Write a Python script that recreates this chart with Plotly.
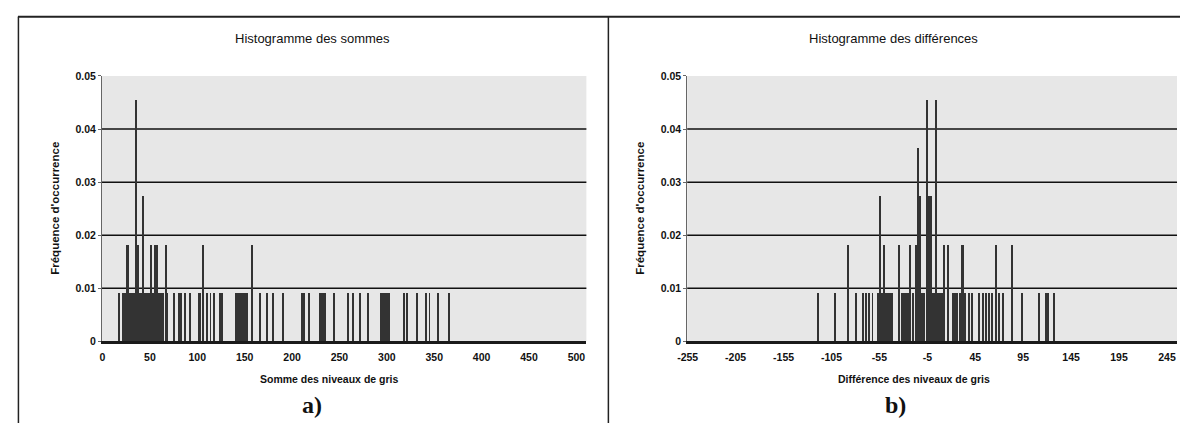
import plotly.graph_objects as go

# ---------------- data ----------------
# Histogram a) : sum of grey levels -> frequency of occurrence
sum_levels = [17, 22, 23, 24, 25, 26, 27, 28, 29, 30, 31, 32, 33, 34, 35, 36, 37, 38,
              40, 41, 43, 44, 45, 46, 48, 49, 51, 52, 53, 55, 56, 57, 58, 59, 60, 62,
              64, 67, 68, 75, 81, 83, 87, 92, 102, 103, 106, 110, 114, 118, 124, 125,
              126, 141, 142, 144, 146, 148, 150, 151, 152, 158, 166, 174, 180, 190,
              210, 211, 212, 213, 218, 229, 231, 233, 235, 244, 259, 264, 272, 280,
              294, 296, 298, 300, 302, 318, 321, 332, 341, 345, 354, 366]
sum_freq = [0.0091, 0.0091, 0.0091, 0.0091, 0.0091, 0.0182, 0.0182, 0.0091, 0.0091,
            0.0091, 0.0091, 0.0091, 0.0091, 0.0091, 0.0455, 0.0182, 0.0182, 0.0091,
            0.0091, 0.0091, 0.0273, 0.0091, 0.0091, 0.0091, 0.0091, 0.0091, 0.0182,
            0.0091, 0.0091, 0.0182, 0.0182, 0.0182, 0.0182, 0.0091, 0.0091, 0.0091,
            0.0091, 0.0182, 0.0091, 0.0091, 0.0091, 0.0091, 0.0091, 0.0091, 0.0091,
            0.0091, 0.0182, 0.0091, 0.0091, 0.0091, 0.0091, 0.0091, 0.0091, 0.0091,
            0.0091, 0.0091, 0.0091, 0.0091, 0.0091, 0.0091, 0.0091, 0.0182, 0.0091,
            0.0091, 0.0091, 0.0091, 0.0091, 0.0091, 0.0091, 0.0091, 0.0091, 0.0091,
            0.0091, 0.0091, 0.0091, 0.0091, 0.0091, 0.0091, 0.0091, 0.0091, 0.0091,
            0.0091, 0.0091, 0.0091, 0.0091, 0.0091, 0.0091, 0.0091, 0.0091, 0.0091,
            0.0091, 0.0091]

# Histogram b) : difference of grey levels -> frequency of occurrence
diff_levels = [-119, -101, -88, -79, -72, -69, -66, -62, -56, -54, -52, -50, -48, -46,
               -44, -42, -34, -31, -30, -29, -28, -27, -25, -23, -20, -17, -15, -12,
               -10, -8, -5, -4, -3, -2, -1, 0, 1, 2, 4, 6, 7, 8, 10, 12, 13, 17, 22,
               24, 26, 29, 31, 32, 35, 39, 42, 49, 53, 56, 60, 63, 67, 70, 74, 84, 94,
               112, 119, 121, 127]
diff_freq = [0.0091, 0.0091, 0.0182, 0.0091, 0.0091, 0.0091, 0.0091, 0.0091, 0.0091,
             0.0273, 0.0091, 0.0182, 0.0091, 0.0091, 0.0091, 0.0091, 0.0182, 0.0091,
             0.0091, 0.0091, 0.0091, 0.0091, 0.0091, 0.0182, 0.0091, 0.0182, 0.0364,
             0.0273, 0.0091, 0.0091, 0.0455, 0.0273, 0.0273, 0.0273, 0.0273, 0.0091,
             0.0091, 0.0091, 0.0455, 0.0091, 0.0091, 0.0091, 0.0091, 0.0091, 0.0182,
             0.0182, 0.0091, 0.0091, 0.0091, 0.0091, 0.0182, 0.0182, 0.0091, 0.0091,
             0.0091, 0.0091, 0.0091, 0.0091, 0.0091, 0.0091, 0.0182, 0.0091, 0.0091,
             0.0182, 0.0091, 0.0091, 0.0091, 0.0091, 0.0091]

sum_ticks = [0, 50, 100, 150, 200, 250, 300, 350, 400, 450, 500]
diff_ticks = [-255, -205, -155, -105, -55, -5, 45, 95, 145, 195, 245]
diff_tick_text = ["-255", "-205", "-155", "-105", "-55", "-5", "45", "95", "145", "195", "245"]
y_ticks = [0, 0.01, 0.02, 0.03, 0.04, 0.05]
y_tick_text = ["0", "0.01", "0.02", "0.03", "0.04", "0.05"]
grid_levels = [0.01, 0.02, 0.03, 0.04]

titles = ["Histogramme des sommes", "Histogramme des différences"]
x_titles = ["Somme des niveaux de gris", "Différence des niveaux de gris"]
y_title = "Fréquence d'occurrence"
panel_labels = ["a)", "b)"]

# ---------------- figure ----------------
W, H = 1180, 429
def px(x):
    return x / W
def py(y):
    return 1 - y / H

BAR = "#333333"
fig = go.Figure()
fig.add_trace(go.Bar(x=sum_levels, y=sum_freq, width=1, marker=dict(color=BAR, line=dict(width=0)),
                     xaxis="x", yaxis="y", showlegend=False))
fig.add_trace(go.Bar(x=diff_levels, y=diff_freq, width=1, marker=dict(color=BAR, line=dict(width=0)),
                     xaxis="x2", yaxis="y2", showlegend=False))

tickfont = dict(family="Liberation Sans", size=10.5, color="#111", weight="bold")
ydom = [py(345), py(72)]
common_x = dict(showgrid=False, zeroline=False, showline=True, linecolor="#1a1a1a", linewidth=3,
                ticks="", tickfont=tickfont, ticklabelstandoff=4)
common_y = dict(range=[0, 0.05], tickvals=y_ticks, ticktext=y_tick_text, showgrid=False,
                zeroline=False, showline=True, linecolor="#666", linewidth=1, ticks="outside",
                ticklen=3, tickcolor="#666", tickfont=tickfont, domain=ydom)

fig.update_layout(
    width=W, height=H, margin=dict(l=0, r=0, t=0, b=0),
    paper_bgcolor="white", plot_bgcolor="#e7e7e7", bargap=0,
    xaxis=dict(common_x, domain=[px(92.8), px(581.3)], range=[-0.5, 510.5], tickvals=sum_ticks, anchor="y"),
    yaxis=dict(common_y, anchor="x"),
    xaxis2=dict(common_x, domain=[px(683), px(1177)], range=[-255.5, 255.5], tickvals=diff_ticks,
                ticktext=diff_tick_text, anchor="y2"),
    yaxis2=dict(common_y, anchor="x2"),
)

shapes = []
for ax in ["", "2"]:
    for g in grid_levels:
        shapes.append(dict(type="line", xref=f"x{ax} domain", yref=f"y{ax}", x0=0, x1=1, y0=g, y1=g,
                           line=dict(color="#111", width=1.5), layer="below"))
# panel frames
shapes += [
    dict(type="line", xref="paper", yref="paper", x0=px(8), x1=1, y0=py(11), y1=py(11),
         line=dict(color="#222", width=2)),
    dict(type="line", xref="paper", yref="paper", x0=px(8.5), x1=px(8.5), y0=py(11), y1=0,
         line=dict(color="#222", width=1.5)),
    dict(type="line", xref="paper", yref="paper", x0=px(603.5), x1=px(603.5), y0=py(11), y1=0,
         line=dict(color="#222", width=1.5)),
]
fig.update_layout(shapes=shapes)

ann = []
title_x = [305, 891]
xt_x = [322, 912]
yt_x = [46, 636]
lab_x = [305, 893]
for i in range(2):
    ann.append(dict(text=titles[i], x=px(title_x[i]), y=py(33), xref="paper", yref="paper",
                    showarrow=False, xanchor="center", yanchor="middle",
                    font=dict(family="Liberation Sans", size=13, color="#111")))
    ann.append(dict(text=x_titles[i], x=px(xt_x[i]), y=py(384), xref="paper", yref="paper",
                    showarrow=False, xanchor="center", yanchor="middle",
                    font=dict(family="Liberation Sans", size=10.5, color="#111", weight="bold")))
    ann.append(dict(text=y_title, x=px(yt_x[i]), y=py(208), xref="paper", yref="paper",
                    showarrow=False, xanchor="center", yanchor="middle", textangle=-90,
                    font=dict(family="Liberation Sans", size=11.5, color="#111", weight="bold")))
    ann.append(dict(text=panel_labels[i], x=px(lab_x[i]), y=py(410), xref="paper", yref="paper",
                    showarrow=False, xanchor="center", yanchor="middle",
                    font=dict(family="Liberation Serif", size=24, color="#111", weight="bold")))
fig.update_layout(annotations=ann)

fig.write_html("out.html", config={"displayModeBar": False})

# remove the browser's default body margin so the figure sits at the page origin
with open("out.html", "r", encoding="utf-8") as f:
    html = f.read()
html = html.replace("<body>", '<body style="margin:0;padding:0;overflow:hidden">', 1)
with open("out.html", "w", encoding="utf-8") as f:
    f.write(html)
